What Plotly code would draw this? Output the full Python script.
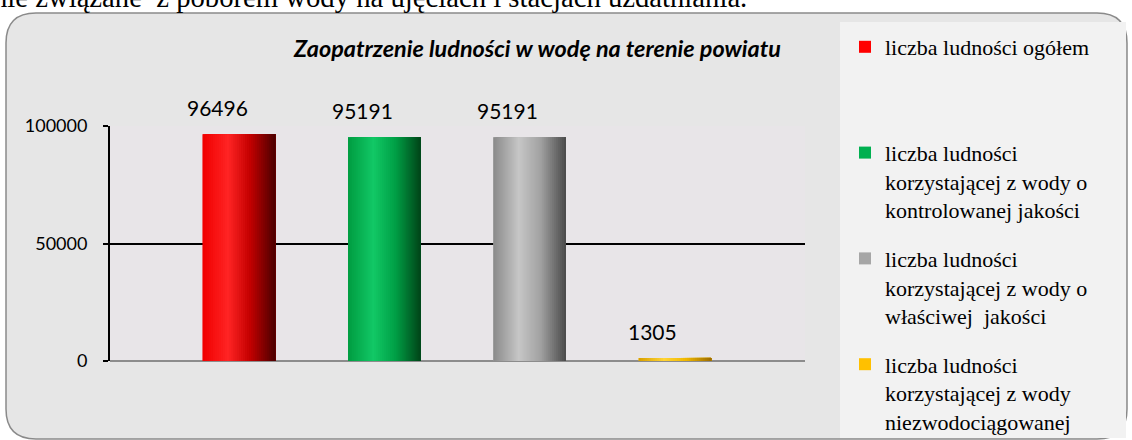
import re
import plotly.graph_objects as go

# ---- data ----
categories = [
    "liczba ludności ogółem",
    "liczba ludności korzystającej z wody o kontrolowanej jakości",
    "liczba ludności korzystającej z wody o właściwej jakości",
    "liczba ludności korzystającej z wody niezwodociągowanej",
]
legend_labels = [
    "liczba ludności ogółem<br>&nbsp;<br>&nbsp;",
    "liczba ludności<br>korzystającej z wody o<br>kontrolowanej jakości",
    "liczba ludności<br>korzystającej z wody o<br>właściwej  jakości",
    "liczba ludności<br>korzystającej z wody<br>niezwodociągowanej",
]
values = [96496, 95191, 95191, 1305]
y_ticks = [0, 50000, 100000]
title_text = "Zaopatrzenie ludności w wodę na terenie powiatu"
above_text = "nie związane  z poborem wody na ujęciach i stacjach uzdatniania."

# ---- style ----
base_colors = ["#ff0000", "#00b050", "#a6a6a6", "#ffc000"]
gradients = [
    [(0.0, "#f00000"), (0.35, "#ff2424"), (0.65, "#c40000"), (1.0, "#4a0000")],
    [(0.0, "#009c40"), (0.35, "#12c866"), (0.65, "#00a046"), (1.0, "#004418")],
    [(0.0, "#8a8a8a"), (0.35, "#c6c6c6"), (0.65, "#a2a2a2"), (1.0, "#4a4a4a")],
    [(0.0, "#d8a000"), (0.35, "#ffd436"), (0.65, "#f0b800"), (1.0, "#9c6c00")],
]

W, H = 1132, 440
L, R, T, B = 110, 805, 126, 361
BAR_W = 0.5
N_STRIPS = 36


def hex2rgb(h):
    h = h.lstrip("#")
    return tuple(int(h[i:i + 2], 16) for i in (0, 2, 4))


def grad_color(stops, t):
    for (t0, c0), (t1, c1) in zip(stops[:-1], stops[1:]):
        if t0 <= t <= t1:
            f = (t - t0) / (t1 - t0) if t1 > t0 else 0
            a, b = hex2rgb(c0), hex2rgb(c1)
            return "rgb(%d,%d,%d)" % tuple(round(a[k] + (b[k] - a[k]) * f) for k in range(3))
    return stops[-1][1]


def px_x(p):
    return (p - L) / (R - L)


def px_y(p):
    return (B - p) / (B - T)


fig = go.Figure()

for i, (cat, val) in enumerate(zip(categories, values)):
    fig.add_trace(go.Bar(
        x=[cat], y=[val], name=legend_labels[i], legendgroup=cat,
        marker=dict(color=base_colors[i], line=dict(width=0)),
        width=BAR_W, showlegend=True, hoverinfo="y",
    ))
    sw = BAR_W / N_STRIPS
    for j in range(N_STRIPS):
        t = (j + 0.5) / N_STRIPS
        fig.add_trace(go.Bar(
            x=[cat], y=[val], legendgroup=cat, showlegend=False,
            offset=-BAR_W / 2 + j * sw, width=BAR_W - j * sw,
            marker=dict(color=grad_color(gradients[i], t), line=dict(width=0)),
            hoverinfo="skip",
        ))

annotations = []
for cat, val in zip(categories, values):
    annotations.append(dict(
        x=cat, y=val, xref="x", yref="y", text=str(val), showarrow=False,
        yanchor="bottom", xanchor="center", xshift=-22, yshift=12,
        font=dict(family="Lato", size=21, color="#000000"),
    ))
annotations.append(dict(
    x=px_x(537), y=px_y(48), xref="paper", yref="paper", text=title_text,
    showarrow=False, xanchor="center", yanchor="middle",
    font=dict(family="Lato", size=23.4, color="#000000", weight="bold", style="italic"),
))
annotations.append(dict(
    x=px_x(749), y=px_y(15), xref="paper", yref="paper", text=above_text,
    showarrow=False, xanchor="right", yanchor="bottom",
    font=dict(family="Liberation Serif", size=28.7, color="#000000"),
))

r = 30
x0, y0, x1, y1 = 6, 13, 1127, 439
box_path = (
    f"M {x0 + r},{y0} L {x1 - r},{y0} Q {x1},{y0} {x1},{y0 + r} "
    f"L {x1},{y1 - r} Q {x1},{y1} {x1 - r},{y1} L {x0 + r},{y1} "
    f"Q {x0},{y1} {x0},{y1 - r} L {x0},{y0 + r} Q {x0},{y0} {x0 + r},{y0} Z"
)


def conv_path(p):
    toks = re.split(r"(\s+)", p)
    out = []
    for tk in toks:
        if "," in tk:
            a, b = tk.split(",")
            out.append(f"{px_x(float(a)):.5f},{px_y(float(b)):.5f}")
        else:
            out.append(tk)
    return "".join(out)


shapes = [
    dict(type="path", xref="paper", yref="paper", path=conv_path(box_path),
         fillcolor="#e6e6e6", line=dict(color="#8a8a8a", width=1.5), layer="below"),
    dict(type="rect", xref="paper", yref="paper",
         x0=px_x(840), x1=px_x(1126), y0=px_y(438), y1=px_y(22),
         fillcolor="#f2f2f2", line=dict(width=0), layer="below"),
    dict(type="rect", xref="x domain", yref="y domain", x0=0, x1=1, y0=0, y1=1,
         fillcolor="#e8e5e8", line=dict(width=0), layer="below"),
]

fig.update_layout(
    width=W, height=H,
    margin=dict(l=L, r=W - R, t=T, b=H - B, pad=0, autoexpand=False),
    paper_bgcolor="#ffffff", plot_bgcolor="rgba(0,0,0,0)",
    barmode="overlay",
    showlegend=True,
    legend=dict(
        x=px_x(845), xref="paper", y=1 - 26 / H, yref="container",
        xanchor="left", yanchor="top",
        bgcolor="rgba(0,0,0,0)", borderwidth=0,
        font=dict(family="Liberation Serif", size=22, color="#000000"),
        valign="top", traceorder="grouped", tracegroupgap=17,
        itemclick=False, itemdoubleclick=False,
    ),
    xaxis=dict(
        type="category", categoryorder="array", categoryarray=categories,
        range=[(L - 239) / 145.33, (R - 239) / 145.33],
        showticklabels=False, showgrid=False, zeroline=False, showline=False,
        ticks="", fixedrange=True,
    ),
    yaxis=dict(
        range=[0, 100000], tickvals=y_ticks, tickformat="d",
        showgrid=True, gridcolor="#000000", gridwidth=2,
        zeroline=True, zerolinecolor="#8c8c8c", zerolinewidth=2,
        showline=True, linecolor="#000000", linewidth=2,
        ticks="outside", ticklen=5, tickcolor="#000000", tickwidth=2,
        ticklabelstandoff=12,
        tickfont=dict(family="Lato", size=18, color="#000000"),
        fixedrange=True,
    ),
    annotations=annotations,
    shapes=shapes,
)

try:
    fig.update_layout(legend_maxheight=H)
except Exception:
    pass

fig.write_html(
    "out.html",
    config={"displayModeBar": False},
    post_script="document.body.style.margin='0';document.body.style.overflow='hidden';",
)
